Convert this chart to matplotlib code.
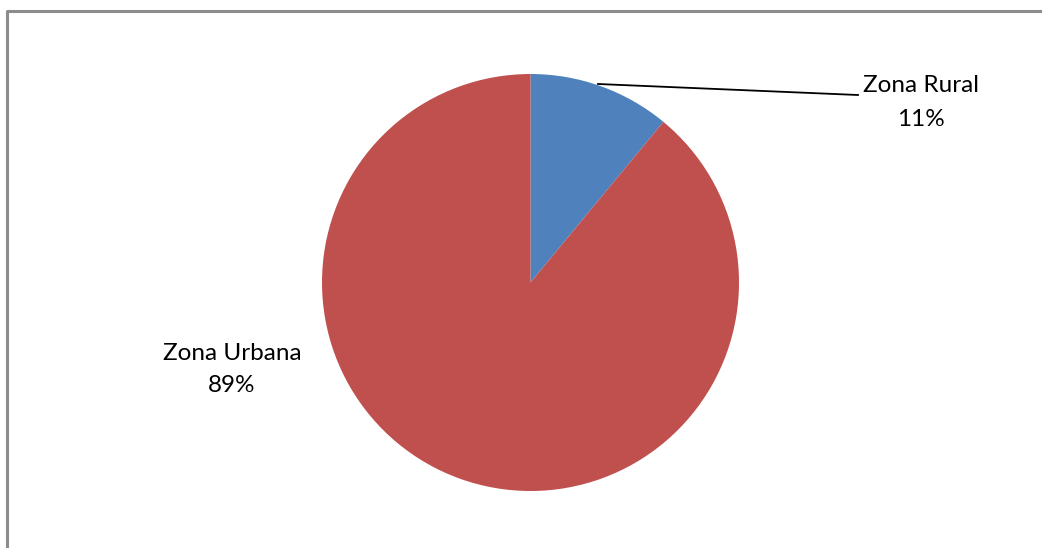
import matplotlib.pyplot as plt
from matplotlib.lines import Line2D

labels = ['Zona Rural', 'Zona Urbana']
values = [11, 89]
colors = ['#4F81BD', '#C0504D']

W, H = 1042, 548

fig = plt.figure(figsize=(W / 100, H / 100), dpi=100)
ax = fig.add_axes([0, 0, 1, 1])

# chart-area border (only top and left visible, the rest is cropped)
ax.add_line(Line2D([6.5, 6.5, W + 5], [-5, H - 10.5, H - 10.5], color='#8c8c8c', lw=2.2))

ax.pie(values, colors=colors, startangle=90, counterclock=False,
       center=(530.5, H - 282.5), radius=208.5, frame=True)
ax.set_xlim(0, W)
ax.set_ylim(0, H)
ax.axis('off')

font = dict(family='Lato', fontsize=17.5, color='black', ha='center', va='center')
ax.text(921, H - 86, labels[0], **font)
ax.text(921, H - 119, f'{values[0]}%', **font)
ax.text(232, H - 353, labels[1], **font)
ax.text(232, H - 385, f'{values[1]}%', **font)

# leader line for the small slice
ax.plot([598, 858], [H - 84, H - 95], color='black', lw=1.3)

fig.savefig('out.png', dpi=100)
